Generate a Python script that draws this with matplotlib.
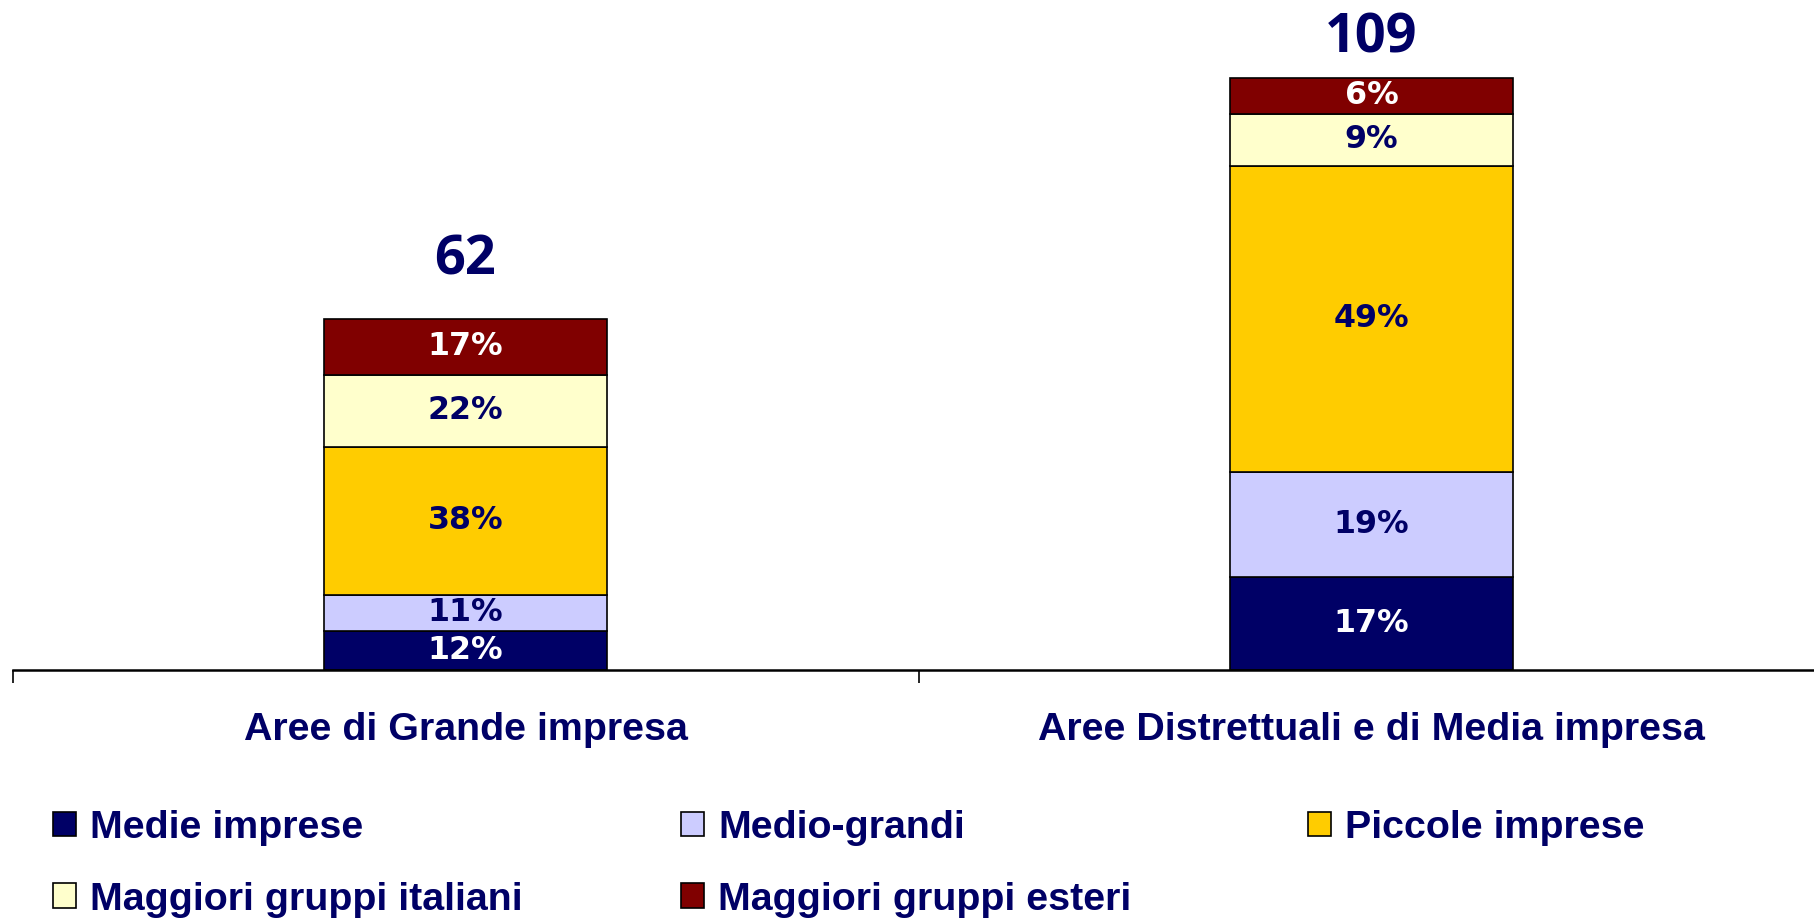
"""
Stacked bars: composition of two industrial area types by company group.
"""

import matplotlib
matplotlib.use("Agg")
import matplotlib.pyplot as plt
from matplotlib.patches import Patch

#####################################
# Data
#####################################

areas = ["Aree di Grande impresa", "Aree Distrettuali e di Media impresa"]
totals = [62, 109]

groups = ["Medie imprese", "Medio-grandi", "Piccole imprese",
          "Maggiori gruppi italiani", "Maggiori gruppi esteri"]

# segment heights as drawn, bottom to top (one value per area)
medie = [7.2, 17.1]
medio_grandi = [6.6, 19.4]
piccole = [27.3, 56.4]
gruppi_italiani = [13.2, 9.5]
gruppi_esteri = [10.4, 6.7]

# percentages printed on the segments
pct_medie = [12, 17]
pct_medio_grandi = [11, 19]
pct_piccole = [38, 49]
pct_gruppi_italiani = [22, 9]
pct_gruppi_esteri = [17, 6]

#####################################
# Style
#####################################

NAVY = "#000066"
colors = ["#000066", "#CCCCFF", "#FFCC00", "#FFFFCC", "#800000"]
label_colors = ["white", NAVY, NAVY, NAVY, "white"]
total_offsets = [32, 18]  # points above bar top

W, H = 1815, 919
fig = plt.figure(figsize=(W / 100, H / 100), dpi=100)
ax = fig.add_axes([12.5 / W, 1 - 670 / H, 1812 / W, 670 / H])

series = [medie, medio_grandi, piccole, gruppi_italiani, gruppi_esteri]
pcts = [pct_medie, pct_medio_grandi, pct_piccole, pct_gruppi_italiani, pct_gruppi_esteri]

x = list(range(len(areas)))
bottoms = [0.0] * len(areas)
for vals, pc, col, lcol in zip(series, pcts, colors, label_colors):
    ax.bar(x, vals, width=0.3124, bottom=bottoms, color=col,
           edgecolor="black", linewidth=1.2)
    for i, (v, p) in enumerate(zip(vals, pc)):
        ax.text(x[i], bottoms[i] + v / 2, f"{p}%", ha="center", va="center",
                fontsize=22.8, fontweight="bold", family="DejaVu Sans", color=lcol)
    bottoms = [b + v for b, v in zip(bottoms, vals)]

for i, t in enumerate(totals):
    ax.annotate(str(t), xy=(x[i], bottoms[i]), xytext=(0, total_offsets[i]),
                textcoords="offset points", ha="center", va="baseline",
                fontsize=39, fontweight="bold", family="Open Sans", color=NAVY)

ax.set_xlim(-0.5, 1.5)
ax.set_ylim(0, 670 / 5.43)
ax.set_yticks([])
for s in ["top", "left", "right"]:
    ax.spines[s].set_visible(False)
ax.spines["bottom"].set_linewidth(1.8)

ax.set_xticks([-0.5, 0.5, 1.5])
ax.set_xticklabels([])
ax.tick_params(axis="x", which="major", direction="out", length=9.4, width=1.2)
ax.set_xticks(x, minor=True)
ax.set_xticklabels(areas, minor=True, fontsize=28.4, fontweight="bold",
                   family="Liberation Sans", color=NAVY)
ax.tick_params(axis="x", which="minor", length=0, pad=30)

# legend laid out in three fixed columns
handles = [Patch(facecolor=c, edgecolor="black", linewidth=1.2) for c in colors]
columns = [[0, 3], [1, 4], [2]]
col_x = [53, 681, 1308]
for idx, cx in zip(columns, col_x):
    fig.legend([handles[k] for k in idx], [groups[k] for k in idx],
               loc="upper left", bbox_to_anchor=(cx / W, 1 - 810 / H),
               frameon=False, borderpad=0, borderaxespad=0,
               handlelength=0.58, handleheight=0.58, handletextpad=0.36,
               labelspacing=0.9,
               prop={"family": "Liberation Sans", "weight": "bold", "size": 28.4},
               labelcolor=NAVY)

fig.savefig("out.png", dpi=100)
